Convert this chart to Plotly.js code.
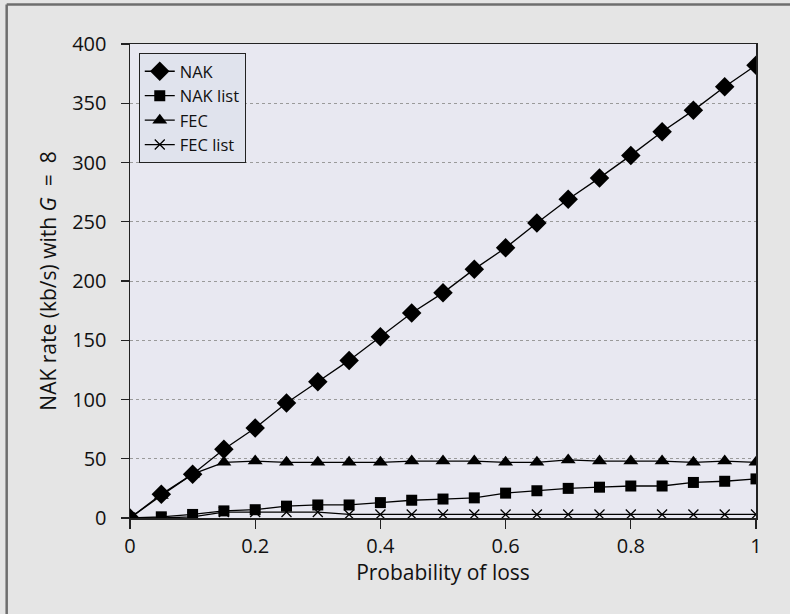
<!DOCTYPE html>
<html>
<head>
<meta charset="utf-8">
<script src="https://cdn.plot.ly/plotly-3.0.1.min.js"></script>
<style>
html,body{margin:0;padding:0;background:#e5e5e5;}
#chart{width:790px;height:614px;}
</style>
</head>
<body>
<div id="chart"></div>
<script>
const lossProb = [0,0.05,0.1,0.15,0.2,0.25,0.3,0.35,0.4,0.45,0.5,0.55,0.6,0.65,0.7,0.75,0.8,0.85,0.9,0.95,1];
const nak     = [0,20,37,58,76,97,115,133,153,173,190,210,228,249,269,287,306,326,344,364,382];
const nakList = [0,1,3,6,7,10,11,11,13,15,16,17,21,23,25,26,27,27,30,31,33];
const fec     = [0,19,37,47,48,47,47,47,47,48,48,48,47,47,49,48,48,48,47,48,47];
const fecList = [0,0,1,5,5,5,5,3,3,3,3,3,3,3,3,3,3,3,3,3,3];
const seriesNames = ['NAK','NAK list','FEC','FEC list'];
const xTickVals = [0,0.2,0.4,0.6,0.8,1];
const xTickText = ['0','0.2','0.4','0.6','0.8','1'];
const yTickVals = [0,50,100,150,200,250,300,350,400];

const lineStyle = {color:'#000', width:1.3};
const traces = [
  {name:seriesNames[0], x:lossProb, y:nak, mode:'lines+markers', line:lineStyle,
   marker:{symbol:'diamond', size:15, color:'#000'}},
  {name:seriesNames[1], x:lossProb, y:nakList, mode:'lines+markers', line:lineStyle,
   marker:{symbol:'square', size:11, color:'#000'}},
  {name:seriesNames[2], x:lossProb, y:fec, mode:'lines+markers', line:lineStyle,
   marker:{symbol:'triangle-up', size:13, color:'#000'}},
  {name:seriesNames[3], x:lossProb, y:fecList, mode:'lines+markers', line:lineStyle,
   marker:{symbol:'x-thin', size:10, color:'#000', line:{color:'#000', width:1.3}}}
];

const layout = {
  width:790, height:614,
  paper_bgcolor:'#e5e5e5',
  plot_bgcolor:'#e8e8f1',
  margin:{l:130, r:34, t:44, b:96},
  font:{family:'Open Sans, sans-serif', color:'#111'},
  showlegend:true,
  legend:{x:0.014, y:0.981, xanchor:'left', yanchor:'top',
    bgcolor:'#e0e3ed', bordercolor:'#222', borderwidth:1,
    font:{size:16.5, color:'#111'}, itemwidth:30, tracegroupgap:0},
  xaxis:{range:[0,1], tickvals:xTickVals, ticktext:xTickText,
    ticks:'outside', ticklen:9, tickcolor:'#222', tickwidth:1.3,
    showline:true, linecolor:'#222', linewidth:1.5, mirror:true,
    showgrid:false, zeroline:false,
    tickfont:{size:20}, title:{text:'Probability of loss', font:{size:21}, standoff:8}},
  yaxis:{range:[0,400], tickvals:yTickVals,
    ticks:'outside', ticklen:8, tickcolor:'#222', tickwidth:1.3,
    showline:true, linecolor:'#222', linewidth:1.5, mirror:true,
    showgrid:true, gridcolor:'#9a9a9a', griddash:'dot', gridwidth:1,
    zeroline:false, ticklabelstandoff:10,
    tickfont:{size:20}, title:{text:'NAK rate (kb/s) with <i>G</i>  =  8', font:{size:21}, standoff:10}},
  shapes:[
    {type:'line', xref:'paper', yref:'paper', x0:-0.197, x1:1.1, y0:1.0834, y1:1.0834,
     line:{color:'#6e6e6e', width:2.5}},
    {type:'line', xref:'paper', yref:'paper', x0:-0.197, x1:-0.197, y0:-0.3, y1:1.0834,
     line:{color:'#6e6e6e', width:2.5}}
  ]
};

Plotly.newPlot('chart', traces, layout, {displayModeBar:false, staticPlot:true});
</script>
</body>
</html>
